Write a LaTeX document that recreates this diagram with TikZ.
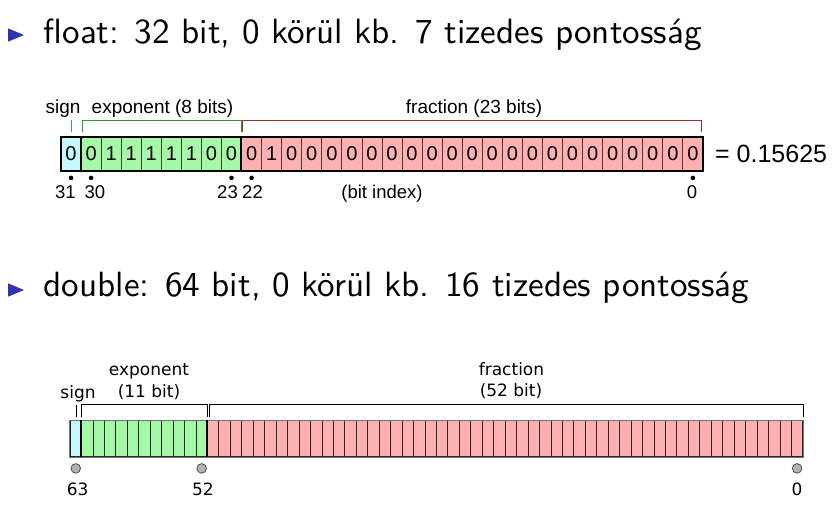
\documentclass[tikz,border=0pt]{standalone}
\usepackage{fontspec}
\usetikzlibrary{calc}
\newfontfamily\titlefont{lmsans10-regular.otf}
\newfontfamily\arialfont{Liberation Sans}
\newfontfamily\dejavufont{DejaVu Sans}
\definecolor{signfill}{RGB}{200,248,255}
\definecolor{expfill}{RGB}{165,248,165}
\definecolor{fracfill}{RGB}{255,177,177}
\definecolor{signline}{RGB}{60,150,170}
\definecolor{expline}{RGB}{40,160,40}
\definecolor{fracline}{RGB}{160,40,40}
\definecolor{bulletblue}{RGB}{51,51,178}

\begin{document}
\begin{tikzpicture}[x=1pt,y=-1pt,
    every node/.style={inner sep=0pt},
    title/.style={anchor=base west, font=\titlefont\fontsize{35.1}{40}\selectfont},
    fcell/.style={draw=black!75, line width=0.8pt, minimum width=20.06pt, minimum height=33pt, font=\arialfont\fontsize{20}{20}\selectfont},
    flabel/.style={anchor=base, font=\arialfont\fontsize{19}{19}\selectfont},
    findex/.style={anchor=base, font=\arialfont\fontsize{18.5}{18.5}\selectfont},
    dcell/.style={draw=black!85, line width=0.8pt, minimum width=11.45pt, minimum height=36pt},
    dlabel/.style={anchor=base, font=\dejavufont\fontsize{17}{17}\selectfont},
    dmark/.style={fill=black!30, draw=black!70, line width=0.8pt}]
    \useasboundingbox (0,0) rectangle (837,515);
    % float
    \fill [bulletblue] (8,28.3) -- (8,41.7) -- (24,35) -- cycle;
    \node [title] (floattitle) at (43.5,43.5) {float: 32 bit, 0 körül kb. 7 tizedes pontosság};
    \node [fcell, fill=signfill] (f0) at (71.03,154) {0};
    \foreach \b [count=\i] in {0,1,1,1,1,1,0,0}
        \node [fcell, fill=expfill] (f\i) at (71.03+20.06*\i,154) {\b};
    \foreach \b [count=\i from 9] in {0,1,0,0,0,0,0,0,0,0,0,0,0,0,0,0,0,0,0,0,0,0,0}
        \node [fcell, fill=fracfill] (f\i) at (71.03+20.06*\i,154) {\b};
    \draw [line width=2.2pt] (f0.north west) rectangle (f31.south east);
    \draw [line width=1.8pt] (f1.north west) -- (f1.south west);
    \draw [line width=1.8pt] (f9.north west) -- (f9.south west);
    \draw [signline, line width=1pt] ($(f0.north)+(0.7,-4.8)$) -- ++(0,-12);
    \draw [expline, line width=1pt] ($(f1.north west)+(1.7,-4.8)$) -- ++(0,-12) -| ($(f8.north east)+(-0.5,-4.8)$);
    \draw [fracline, line width=1pt] ($(f9.north west)+(1.5,-4.8)$) -- ++(0,-12) -| ($(f31.north east)+(-2,-4.8)$);
    \node [flabel] (signlbl) at (63,113.5) {sign};
    \node [flabel] (explbl) at (162.5,113.5) {exponent (8 bits)};
    \node [flabel] (fraclbl) at (474,113.5) {fraction (23 bits)};
    \fill ($(f0.south)+(0,7)$) circle (2.3);
    \fill ($(f1.south)+(0,7)$) circle (2.3);
    \fill ($(f8.south)+(0,7)$) circle (2.3);
    \fill ($(f9.south)+(0,7)$) circle (2.3);
    \fill ($(f31.south)+(0,7)$) circle (2.3);
    \node [findex] (i31) at (65.5,198) {31};
    \node [findex] (i30) at (95,198) {30};
    \node [findex] (i23) at (227.5,198) {23};
    \node [findex] (i22) at (252.5,198) {22};
    \node [findex] (bitidx) at (382,198) {(bit index)};
    \node [findex] (i0) at (692,198) {0};
    \node [anchor=base west, font=\arialfont\fontsize{25}{25}\selectfont] (value) at (715,162.7) {= 0.15625};
    % double
    \fill [bulletblue] (8,283.3) -- (8,296.7) -- (24,290) -- cycle;
    \node [title] (doubletitle) at (43.5,296.7) {double: 64 bit, 0 körül kb. 16 tizedes pontosság};
    \node [dcell, fill=signfill] (d0) at (75.725,438.7) {};
    \foreach \i in {1,...,11}
        \node [dcell, fill=expfill] (d\i) at (75.725+11.45*\i,438.7) {};
    \foreach \i in {12,...,63}
        \node [dcell, fill=fracfill] (d\i) at (75.725+11.45*\i,438.7) {};
    \draw [black!55, line width=1pt] (d0.north west) rectangle (d63.south east);
    \draw [line width=1.4pt] (d1.north west) -- (d1.south west);
    \draw [line width=1.4pt] (d12.north west) -- (d12.south west);
    \draw [line width=0.9pt] ($(d0.north)+(1,-3)$) -- ++(0,-12.7);
    \draw [line width=0.9pt] ($(d1.north west)+(0.5,-3)$) -- ++(0,-12.7) -| ($(d11.north east)+(-0.7,-3)$);
    \draw [line width=0.9pt] ($(d12.north west)+(2,-3)$) -- ++(0,-12.7) -| ($(d63.north east)+(0,-3)$);
    \node [dlabel] (dsignlbl) at (78,398) {sign};
    \node [dlabel] (dexplbl) at (149,375) {exponent};
    \node [dlabel] (dexpbits) at (149,397.7) {(11 bit)};
    \node [dlabel] (dfraclbl) at (511.5,375) {fraction};
    \node [dlabel] (dfracbits) at (511,396) {(52 bit)};
    \filldraw [dmark] ($(d0.south)+(0,11.3)$) circle (4.8);
    \filldraw [dmark] ($(d11.south)+(0,11.3)$) circle (4.8);
    \filldraw [dmark] ($(d63.south)+(0,11.3)$) circle (4.8);
    \node [dlabel] (d63lbl) at (77.7,495) {63};
    \node [dlabel] (d52lbl) at (203,495) {52};
    \node [dlabel] (d0lbl) at (797,495) {0};
\end{tikzpicture}
\end{document}
